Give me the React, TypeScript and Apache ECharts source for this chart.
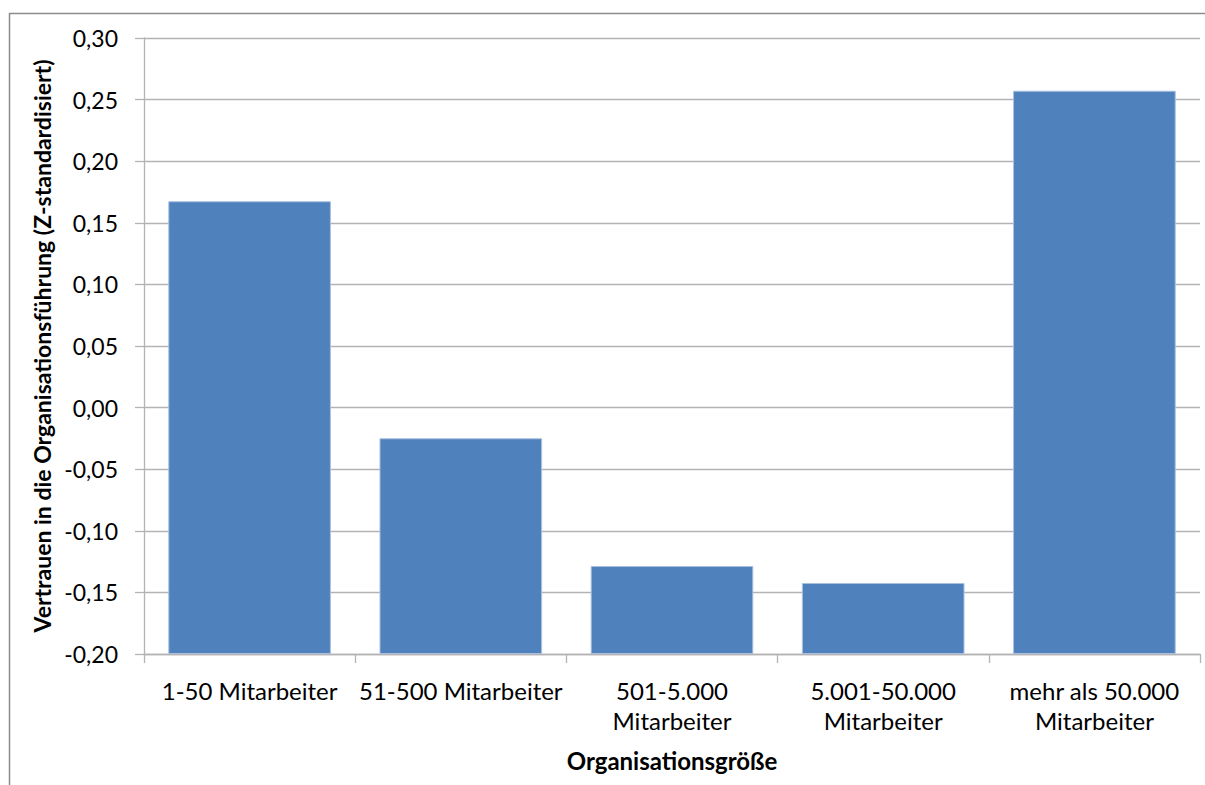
import React, { useEffect, useRef } from "react";
import * as echarts from "echarts";

const categories = [
  "1-50 Mitarbeiter",
  "51-500 Mitarbeiter",
  "501-5.000\nMitarbeiter",
  "5.001-50.000\nMitarbeiter",
  "mehr als 50.000\nMitarbeiter",
];
const values = [0.1675, -0.0249, -0.1286, -0.1424, 0.2572];
const axisMin = -0.2;
const axisMax = 0.3;
const axisStep = 0.05;
const xTitle = "Organisationsgröße";
const yTitle = "Vertrauen in die Organisationsführung (Z-standardisiert)";

const FONT = "Lato, 'Open Sans', sans-serif";

export default function App() {
  const ref = useRef<HTMLDivElement>(null);
  useEffect(() => {
    document.body.style.margin = "0";
    const chart = echarts.init(ref.current!, undefined, { renderer: "svg" });
    // Bars in the reference grow from the axis minimum (-0,20), so the values are
    // plotted relative to that baseline and the tick labels shifted back.
    const shifted = values.map((v) => v - axisMin);
    chart.setOption({
      animation: false,
      backgroundColor: "#ffffff",
      graphic: [
        {
          type: "rect",
          shape: { x: 9.5, y: 13.5, width: 1300, height: 900 },
          style: { fill: "none", stroke: "#8c8c8c", lineWidth: 1.5 },
          silent: true,
        },
      ],
      grid: { left: 144, right: 5, top: 38, bottom: 131, containLabel: false },
      xAxis: {
        type: "category",
        data: categories,
        name: xTitle,
        nameLocation: "middle",
        nameGap: 94,
        nameTextStyle: { fontFamily: FONT, fontSize: 24, fontWeight: "bold", color: "#000" },
        axisLine: { show: true, onZero: false, lineStyle: { color: "#b3b3b3", width: 1.3 } },
        axisTick: { show: true, alignWithLabel: false, length: 9, lineStyle: { color: "#b3b3b3", width: 1.3 } },
        axisLabel: {
          fontFamily: FONT,
          fontSize: 24,
          color: "#000",
          margin: 21,
          lineHeight: 30,
          interval: 0,
        },
        splitLine: { show: false },
      },
      yAxis: {
        type: "value",
        min: 0,
        max: axisMax - axisMin,
        interval: axisStep,
        name: yTitle,
        nameLocation: "middle",
        nameGap: 87,
        nameTextStyle: { fontFamily: FONT, fontSize: 23, fontWeight: "bold", color: "#000" },
        axisLine: { show: true, lineStyle: { color: "#b3b3b3", width: 1.3 } },
        axisTick: { show: true, length: 9, lineStyle: { color: "#b3b3b3", width: 1.3 } },
        axisLabel: {
          fontFamily: FONT,
          fontSize: 23,
          color: "#000",
          margin: 26,
          formatter: (v: number) => {
            const r = Math.round((v + axisMin) * 100) / 100;
            return (r === 0 ? 0 : r).toFixed(2).replace(".", ",");
          },
        },
        splitLine: { show: true, lineStyle: { color: "#b3b3b3", width: 1.3 } },
      },
      series: [
        {
          type: "bar",
          data: shifted,
          barCategoryGap: "23%",
          itemStyle: { color: "#4F81BD", borderColor: "#a9c0e0", borderWidth: 1 },
        },
      ],
    });
    return () => chart.dispose();
  }, []);
  return <div ref={ref} style={{ width: 1205, height: 785 }} />;
}
